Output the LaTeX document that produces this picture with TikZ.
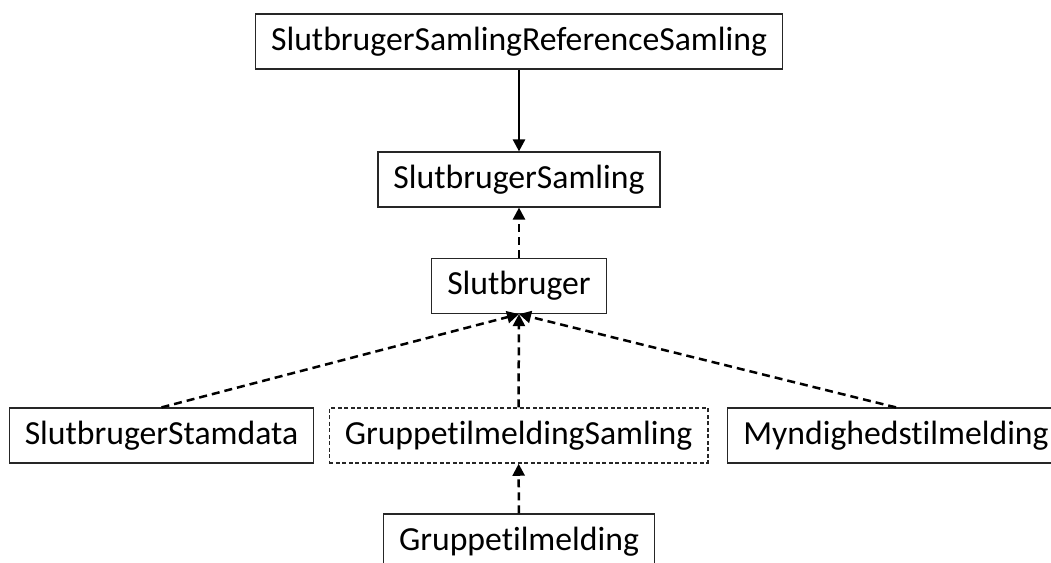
\documentclass[tikz,border=0pt]{standalone}
\usepackage{fontspec}
\setmainfont{Carlito}[Ligatures=NoCommon]
\usetikzlibrary{arrows.meta}

\colorlet{edge}{black!85}
\tikzset{
  entity/.style={draw=edge,line width=1.2pt,inner xsep=15.5pt,inner ysep=0pt,minimum height=55pt,
    font=\fontsize{33.7}{40}\selectfont},
  group/.style={entity,dash pattern=on 4pt off 2.5pt,line width=1.5pt},
  owns/.style={-{Triangle[length=12pt,width=12pt]},line width=2.5pt},
  uses/.style={owns,dash pattern=on 8pt off 5pt},
}

\begin{document}
\begin{tikzpicture}[x=1pt,y=-1pt]
      \useasboundingbox (0,0) rectangle (1051,562);
      \node [entity] (refsamling) at (519,41.5) {SlutbrugerSamlingReferenceSamling};
      \node [entity] (samling) at (519,179.5) {SlutbrugerSamling};
      \node [entity] (bruger) at (519,286) {Slutbruger};
      \node [entity] (stamdata) at (161.5,435.5) {SlutbrugerStamdata};
      \node [group] (gruppesamling) at (518.5,435.5) {GruppetilmeldingSamling};
      \node [entity] (myndighed) at (896,435.5) {Myndighedstilmelding};
      \node [entity] (gruppe) at (519,541.5) {Gruppetilmelding};
      \draw [owns] (refsamling) -- (samling);
      \draw [uses] (bruger) -- (samling);
      \foreach \src in {stamdata,gruppesamling,myndighed}
      {
        \draw [uses] (\src.north) -- (bruger.south);
      }
      \draw [uses] (gruppe) -- (gruppesamling);
    \end{tikzpicture}
\end{document}
